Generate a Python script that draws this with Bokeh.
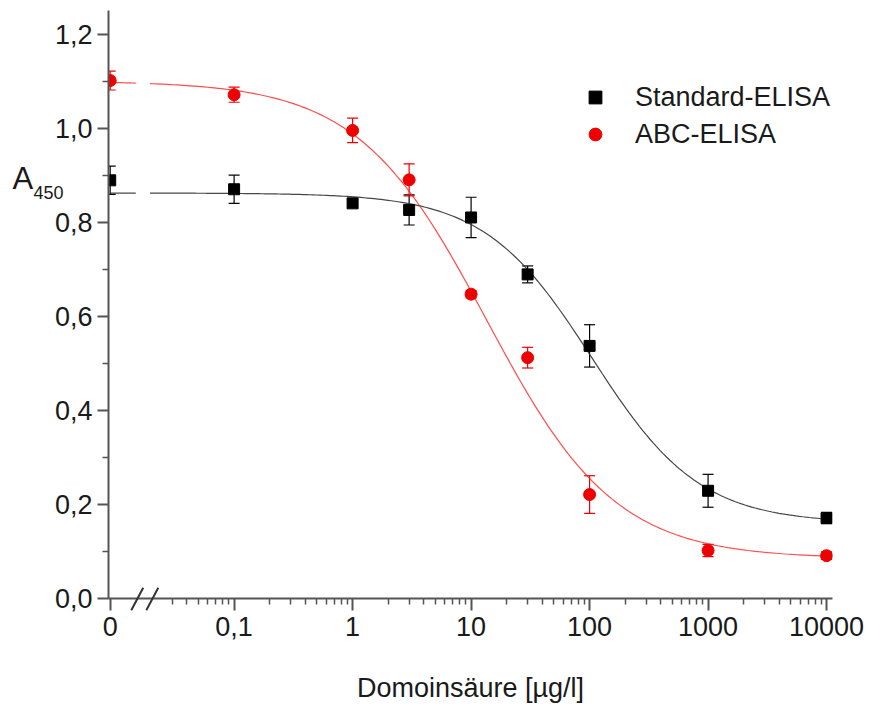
import numpy as np
from bokeh.plotting import figure
from bokeh.models import (Range1d, FixedTicker, CustomJSTickFormatter, ColumnDataSource,
                          Whisker, TeeHead, Legend, LegendItem, Label)
from bokeh.embed import file_html
from bokeh.resources import INLINE

# --- data -------------------------------------------------------------------
# The blank (0 µg/l) is placed at ZERO_POS on the logarithmic axis, left of a break.
ZERO_POS = 0.009
conc = [ZERO_POS, 0.1, 1, 3, 10, 30, 100, 1000, 10000]

std_a450 = [0.889, 0.870, 0.840, 0.826, 0.810, 0.689, 0.537, 0.229, 0.171]
std_err = [0.030, 0.030, 0.008, 0.032, 0.043, 0.018, 0.045, 0.035, 0.012]

abc_a450 = [1.101, 1.071, 0.995, 0.890, 0.647, 0.512, 0.221, 0.102, 0.091]
abc_err = [0.020, 0.016, 0.026, 0.034, 0.008, 0.022, 0.040, 0.013, 0.008]

# four-parameter logistic fits (top, bottom, x50, hill slope)
std_fit = dict(top=0.862, bottom=0.160, x50=105.0, p=0.956)
abc_fit = dict(top=1.100, bottom=0.085, x50=13.5, p=0.80)

x_major = [ZERO_POS, 0.1, 1, 10, 100, 1000, 10000]
y_major = [0.0, 0.2, 0.4, 0.6, 0.8, 1.0, 1.2]
y_minor = [0.1, 0.3, 0.5, 0.7, 0.9, 1.1]

# axis break between the blank and the 0.01-0.1 decade (log10 positions)
BREAK_LO, BREAK_HI = -1.83, -1.71
# the two slashes of the break symbol: (log10 x at bottom, log10 x at top)
BREAK_MARKS = [(-1.868, -1.767), (-1.741, -1.640)]

FONT = "Liberation Sans"
TEXT = "#1a1a1a"
AXIS = "#555555"
STD_COLOR = "#000000"
ABC_COLOR = "#ee0000"


def logistic(x, top, bottom, x50, p):
    return bottom + (top - bottom) / (1.0 + (x / x50) ** p)


# --- figure -----------------------------------------------------------------
p = figure(width=870, height=706, x_axis_type="log",
           x_range=Range1d(10 ** -2.06, 10 ** 4.05), y_range=Range1d(0, 1.25),
           min_border_left=108, min_border_right=38, min_border_top=10,
           min_border_bottom=108, output_backend="svg", toolbar_location=None,
           background_fill_color="white", border_fill_color="white")
p.outline_line_color = None
p.xgrid.visible = False
p.ygrid.visible = False

# x ticks: decades plus 2..9 minor ticks (those hidden by the break are left out)
x_minor = [m * 10.0 ** d for d in range(-2, 4) for m in range(2, 10)
           if np.log10(m * 10.0 ** d) > -1.65]

xa = p.xaxis[0]
xa.ticker = FixedTicker(ticks=x_major, minor_ticks=x_minor)
xa.formatter = CustomJSTickFormatter(code="""
    if (tick < 0.05) return '0';
    if (tick < 0.5) return '0,1';
    return String(Math.round(tick));
""")
xa.axis_label = "Domoinsäure [µg/l]"

ya = p.yaxis[0]
ya.ticker = FixedTicker(ticks=y_major, minor_ticks=y_minor)
ya.formatter = CustomJSTickFormatter(code="return tick.toFixed(1).replace('.', ',');")

for ax in (xa, ya):
    ax.axis_line_color = AXIS
    ax.axis_line_width = 2
    ax.major_tick_line_color = AXIS
    ax.major_tick_line_width = 2
    ax.minor_tick_line_color = AXIS
    ax.minor_tick_line_width = 1.5
    ax.major_tick_in = 0
    ax.minor_tick_in = 0
    ax.major_label_text_font = FONT
    ax.major_label_text_font_size = "27px"
    ax.major_label_text_color = TEXT
    ax.axis_label_text_font = FONT
    ax.axis_label_text_font_size = "27px"
    ax.axis_label_text_font_style = "normal"
    ax.axis_label_text_color = TEXT

xa.major_tick_out = 12
xa.minor_tick_out = 6
xa.major_label_standoff = 6
xa.axis_label_standoff = 34
ya.major_tick_out = 11
ya.minor_tick_out = 6
ya.major_label_standoff = 5

# --- fit curves (interrupted at the axis break) -----------------------------
for fit, color, alpha in ((std_fit, "#333333", 0.9), (abc_fit, "#ff2020", 0.8)):
    for lo, hi in ((np.log10(ZERO_POS), BREAK_LO), (BREAK_HI, 4.0)):
        xs = np.logspace(lo, hi, 200)
        p.line(xs, logistic(xs, **fit), line_color=color, line_width=1.2, line_alpha=alpha)

# --- error bars and points ---------------------------------------------------
std_src = ColumnDataSource(dict(
    x=conc, y=std_a450,
    lower=[v - e for v, e in zip(std_a450, std_err)],
    upper=[v + e for v, e in zip(std_a450, std_err)]))
abc_src = ColumnDataSource(dict(
    x=conc, y=abc_a450,
    lower=[v - e for v, e in zip(abc_a450, abc_err)],
    upper=[v + e for v, e in zip(abc_a450, abc_err)]))

for src, color in ((std_src, STD_COLOR), (abc_src, ABC_COLOR)):
    w = Whisker(source=src, base="x", upper="upper", lower="lower", dimension="height",
                line_color=color, line_width=1.2, level="underlay",
                upper_head=TeeHead(size=11, line_color=color, line_width=1.2),
                lower_head=TeeHead(size=11, line_color=color, line_width=1.2))
    p.add_layout(w)

std_r = p.scatter("x", "y", source=std_src, marker="square", size=11,
                  fill_color=STD_COLOR, line_color=STD_COLOR)
abc_r = p.scatter("x", "y", source=abc_src, marker="circle", size=12,
                  fill_color=ABC_COLOR, line_color=ABC_COLOR)

# --- axis break marks "//" --------------------------------------------------
p.segment(x0=[10 ** a for a, b in BREAK_MARKS], y0=[-0.025] * len(BREAK_MARKS),
          x1=[10 ** b for a, b in BREAK_MARKS], y1=[0.023] * len(BREAK_MARKS),
          line_color="#333333", line_width=2, level="overlay")

# --- y axis title A450, placed in the left border -----------------------------
p.add_layout(Label(x=12, y=178, x_units="canvas", y_units="canvas", text="A",
                   text_baseline="alphabetic",
                   text_font=FONT, text_font_size="31px", text_color=TEXT), "left")
p.add_layout(Label(x=33, y=192, x_units="canvas", y_units="canvas", text="450",
                   text_baseline="alphabetic",
                   text_font=FONT, text_font_size="18px", text_color=TEXT), "left")

# --- legend -----------------------------------------------------------------
legend = Legend(items=[LegendItem(label="Standard-ELISA", renderers=[std_r]),
                       LegendItem(label="ABC-ELISA", renderers=[abc_r])],
                location=(471, 448), padding=0, margin=0, spacing=5,
                glyph_width=32, glyph_height=32, label_height=32, label_standoff=24,
                label_text_font=FONT, label_text_font_size="27px",
                label_text_color=TEXT, border_line_color=None,
                background_fill_alpha=0)
p.add_layout(legend)

open("out.html", "w").write(file_html(p, INLINE))
